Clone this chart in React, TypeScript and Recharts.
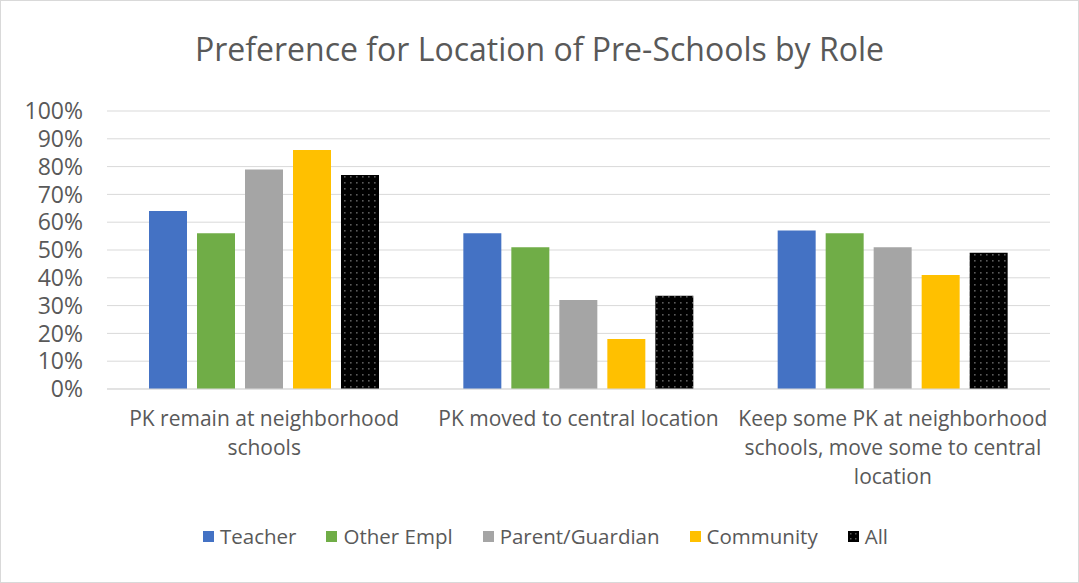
import { BarChart, Bar, XAxis, YAxis, CartesianGrid } from 'recharts';

// Dados
const categories = [
  'PK remain at neighborhood schools',
  'PK moved to central location',
  'Keep some PK at neighborhood schools, move some to central location',
];
const teacher = [0.64, 0.56, 0.57];
const otherEmpl = [0.56, 0.51, 0.56];
const parentGuardian = [0.79, 0.32, 0.51];
const community = [0.86, 0.18, 0.41];
const all = [0.77, 0.335, 0.49];
const yTicks = [0, 0.1, 0.2, 0.3, 0.4, 0.5, 0.6, 0.7, 0.8, 0.9, 1];

const series = [
  { key: 'teacher', name: 'Teacher', fill: '#4472C4', values: teacher },
  { key: 'otherEmpl', name: 'Other Empl', fill: '#70AD47', values: otherEmpl },
  { key: 'parent', name: 'Parent/Guardian', fill: '#A5A5A5', values: parentGuardian },
  { key: 'community', name: 'Community', fill: '#FFC000', values: community },
  { key: 'all', name: 'All', fill: 'url(#dots)', values: all },
];

const data = categories.map((name, i) => {
  const row: Record<string, string | number> = { name };
  series.forEach(s => { row[s.key] = s.values[i]; });
  return row;
});

const FONT = '"Open Sans", "Liberation Sans", sans-serif';
const GREY_TEXT = '#595959';
const CAT_FONT_SIZE = 21;

// Quebra o texto em linhas que cabem na largura (medido com canvas)
function wrapText(text: string, maxWidth: number, fontSize: number): string[] {
  const ctx = document.createElement('canvas').getContext('2d');
  if (!ctx) return [text];
  ctx.font = `${fontSize}px ${FONT}`;
  const lines: string[] = [];
  let current = '';
  text.split(' ').forEach(word => {
    const attempt = current ? `${current} ${word}` : word;
    if (ctx.measureText(attempt).width > maxWidth && current) {
      lines.push(current);
      current = word;
    } else {
      current = attempt;
    }
  });
  if (current) lines.push(current);
  return lines;
}

function CategoryTick(props: any) {
  const { x, y, payload } = props;
  const lines = wrapText(String(payload.value), 312, CAT_FONT_SIZE);
  return (
    <text x={x} y={y} textAnchor="middle" fill={GREY_TEXT} style={{ fontSize: CAT_FONT_SIZE, fontFamily: FONT }}>
      {lines.map((line, i) => (
        <tspan key={i} x={x} dy={i === 0 ? 12 : 29}>{line}</tspan>
      ))}
    </text>
  );
}

export default function App() {
  return (
    <div style={{ position: 'absolute', left: 0, top: 0, width: 1079, height: 583, background: '#fff', fontFamily: FONT }}>
      <div style={{ position: 'absolute', top: 27, left: 0, width: 1079, textAlign: 'center', fontSize: 32, lineHeight: '44px', color: GREY_TEXT }}>
        Preference for Location of Pre-Schools by Role
      </div>
      <div style={{ position: 'absolute', left: 0, top: 0 }}>
        <BarChart
          width={1079}
          height={583}
          data={data}
          margin={{ top: 111, right: 29, left: 0, bottom: 84 }}
          barSize={38}
          barGap={10}
        >
          <defs>
            <pattern id="dots" width="6" height="6" patternUnits="userSpaceOnUse">
              <rect width="6" height="6" fill="#000" />
              <rect x="2" y="2" width="1.6" height="1.6" fill="#5a5a5a" />
            </pattern>
          </defs>
          <CartesianGrid vertical={false} stroke="#d9d9d9" />
          <XAxis
            dataKey="name"
            height={110}
            interval={0}
            tickLine={false}
            axisLine={{ stroke: '#d9d9d9' }}
            tick={<CategoryTick />}
            tickMargin={19}
          />
          <YAxis
            width={107}
            domain={[0, 1]}
            ticks={yTicks}
            interval={0}
            axisLine={false}
            tickLine={false}
            tickMargin={18}
            tick={{ fill: GREY_TEXT, fontSize: 23, fontFamily: FONT }}
            tickFormatter={(v: number) => `${Math.round(v * 100)}%`}
          />
          {series.map(s => (
            <Bar key={s.key} dataKey={s.key} name={s.name} fill={s.fill} isAnimationActive={false} />
          ))}
        </BarChart>
      </div>
      {/* Legenda */}
      <div style={{ position: 'absolute', top: 521, left: 6, width: 1079, display: 'flex', justifyContent: 'center', gap: 30, fontSize: 20.5, lineHeight: '30px', color: GREY_TEXT }}>
        {series.map(s => (
          <div key={s.key} style={{ display: 'flex', alignItems: 'center' }}>
            <svg width={11} height={11} style={{ marginRight: 6 }}>
              {s.key === 'all' ? (
                <>
                  <rect width={11} height={11} fill="#000" />
                  <rect x={2} y={2} width={1.5} height={1.5} fill="#5a5a5a" />
                  <rect x={7} y={2} width={1.5} height={1.5} fill="#5a5a5a" />
                  <rect x={2} y={7} width={1.5} height={1.5} fill="#5a5a5a" />
                  <rect x={7} y={7} width={1.5} height={1.5} fill="#5a5a5a" />
                </>
              ) : (
                <rect width={11} height={11} fill={s.fill} />
              )}
            </svg>
            <span>{s.name}</span>
          </div>
        ))}
      </div>
      <div style={{ position: 'absolute', left: 0, top: 0, width: 1079, height: 583, boxSizing: 'border-box', border: '1px solid #d9d9d9', pointerEvents: 'none' }} />
    </div>
  );
}
